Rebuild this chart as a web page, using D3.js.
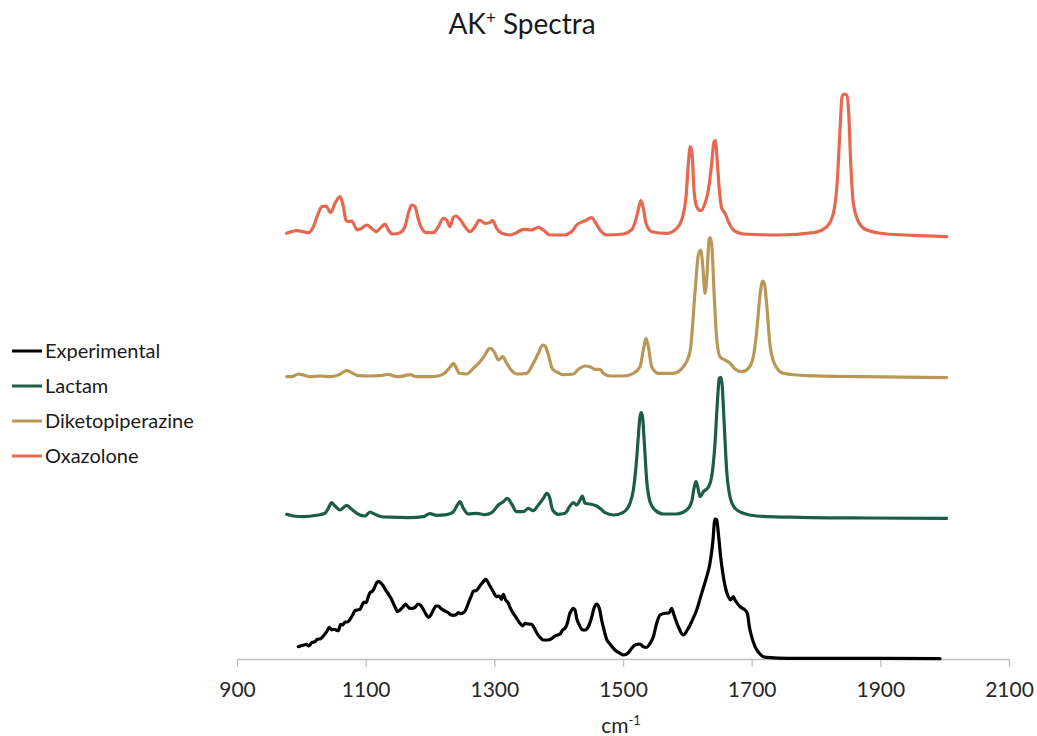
<!DOCTYPE html>
<html>
<head>
<meta charset="utf-8">
<script src="https://cdn.jsdelivr.net/npm/d3@7"></script>
<style>
  body { margin: 0; background: #fff; }
  svg { display: block; font-family: Lato, "Open Sans", sans-serif; }
</style>
</head>
<body>
<div id="app"></div>
<script>
// values (wavenumber, relative intensity)
const expX = [995.3,1003.1,1008.3,1011.4,1016.1,1021.2,1024.9,1030.1,1034.2,1039.4,1043.5,1047.2,1050.8,1053.9,1057.5,1061.1,1064.3,1067.9,1071.5,1075.7,1079.8,1083.4,1087.0,1091.2,1094.8,1097.4,1100.5,1104.1,1106.7,1110.9,1114.5,1117.1,1120.2,1123.3,1127.5,1131.6,1135.2,1139.4,1143.0,1146.6,1149.2,1153.4,1157.5,1161.7,1164.8,1167.9,1172.0,1176.7,1181.9,1185.5,1189.6,1193.8,1197.4,1201.0,1205.2,1209.3,1213.0,1216.6,1223.3,1228.5,1232.1,1236.3,1240.4,1244.0,1247.7,1251.8,1254.9,1258.0,1261.1,1264.8,1267.4,1271.5,1275.1,1278.8,1282.9,1286.5,1289.6,1293.3,1297.4,1301.0,1303.6,1307.8,1310.9,1314.0,1317.6,1321.8,1324.3,1329.5,1334.7,1339.9,1344.0,1347.7,1352.9,1358.0,1361.7,1365.8,1371.0,1376.2,1383.9,1389.1,1394.3,1402.1,1406.2,1409.8,1413.5,1416.6,1420.2,1422.8,1425.4,1428.0,1432.1,1437.3,1440.9,1446.1,1451.3,1454.9,1459.1,1463.2,1466.8,1470.5,1474.6,1479.8,1487.6,1495.3,1500.5,1508.3,1513.5,1518.7,1526.4,1531.6,1536.8,1542.0,1547.2,1552.3,1557.5,1565.3,1572.0,1575.6,1579.3,1586.0,1593.8,1600.0,1606.7,1614.5,1622.3,1630.1,1635.2,1639.4,1643.0,1645.6,1648.2,1651.8,1656.0,1660.1,1663.7,1667.4,1671.5,1674.1,1677.7,1681.9,1689.6,1693.3,1696.4,1700.0,1705.2,1711.9,1718.1,1728.5,1754.4,1827.0,1904.7,1992.7];
const expY = [0.123,0.137,0.147,0.13,0.163,0.173,0.197,0.203,0.23,0.273,0.317,0.29,0.297,0.29,0.283,0.347,0.34,0.37,0.37,0.397,0.44,0.483,0.49,0.497,0.543,0.57,0.563,0.623,0.663,0.68,0.723,0.763,0.773,0.763,0.73,0.683,0.65,0.607,0.557,0.507,0.473,0.49,0.517,0.55,0.53,0.507,0.507,0.517,0.55,0.537,0.497,0.447,0.417,0.437,0.49,0.53,0.53,0.507,0.48,0.463,0.443,0.437,0.443,0.463,0.453,0.463,0.483,0.53,0.583,0.64,0.68,0.683,0.707,0.743,0.773,0.797,0.773,0.73,0.683,0.64,0.623,0.63,0.597,0.647,0.59,0.557,0.517,0.457,0.407,0.357,0.33,0.357,0.35,0.347,0.313,0.263,0.217,0.19,0.19,0.203,0.23,0.25,0.29,0.307,0.357,0.44,0.49,0.507,0.49,0.407,0.34,0.29,0.29,0.323,0.417,0.507,0.55,0.507,0.39,0.29,0.197,0.15,0.09,0.057,0.04,0.063,0.107,0.14,0.15,0.123,0.117,0.157,0.223,0.357,0.44,0.457,0.463,0.507,0.44,0.323,0.24,0.29,0.373,0.49,0.657,0.823,0.957,1.157,1.4,1.395,1.257,1.023,0.823,0.69,0.623,0.59,0.623,0.59,0.557,0.523,0.49,0.457,0.323,0.223,0.123,0.057,0.023,0.013,0.007,0.007,0.007,0.003];

const lacX = [977.2,987.6,1003.1,1023.8,1036.8,1042.0,1047.2,1052.3,1060.1,1070.5,1078.2,1088.6,1099.0,1106.7,1114.5,1127.5,1148.2,1168.9,1189.6,1200.0,1210.4,1225.9,1236.3,1242.5,1246.6,1251.8,1259.6,1272.5,1285.5,1295.9,1306.2,1314.0,1320.2,1327.0,1334.7,1345.1,1352.8,1360.6,1368.4,1376.2,1381.4,1385.5,1390.7,1399.5,1409.8,1417.6,1422.8,1428.0,1433.2,1436.8,1441.0,1448.7,1459.1,1466.0,1472.0,1485.0,1500.5,1510.9,1516.1,1520.2,1523.8,1526.4,1528.5,1530.6,1533.2,1536.8,1542.0,1549.8,1562.7,1583.4,1599.0,1606.7,1610.9,1613.5,1616.1,1619.7,1624.9,1632.6,1637.8,1643.0,1646.6,1649.7,1651.8,1653.9,1657.0,1661.1,1666.3,1674.1,1687.1,1707.8,1775.1,1878.8,2003.1];
const lacY = [0.04,0.023,0.016,0.03,0.05,0.1,0.156,0.123,0.083,0.13,0.09,0.04,0.023,0.063,0.04,0.013,0.01,0.007,0.016,0.046,0.03,0.036,0.066,0.133,0.166,0.1,0.043,0.05,0.036,0.056,0.133,0.166,0.2,0.143,0.066,0.066,0.1,0.076,0.133,0.2,0.25,0.216,0.083,0.04,0.05,0.123,0.156,0.133,0.183,0.223,0.15,0.143,0.123,0.09,0.056,0.033,0.06,0.15,0.283,0.516,0.816,1.016,1.056,1.0,0.75,0.383,0.166,0.083,0.043,0.043,0.083,0.166,0.316,0.366,0.316,0.216,0.266,0.31,0.416,0.75,1.15,1.40,1.41,1.35,0.983,0.483,0.216,0.1,0.05,0.023,0.01,0.003,0];

const dkpX = [977.2,985.0,995.3,1003.1,1013.5,1029.0,1044.6,1057.5,1070.5,1078.2,1088.6,1106.7,1122.3,1135.2,1148.2,1158.5,1168.9,1179.3,1200.0,1213.0,1223.3,1231.1,1236.3,1240.4,1245.6,1257.0,1267.4,1277.7,1285.5,1290.7,1294.3,1299.5,1306.7,1313.0,1319.2,1327.0,1334.7,1350.3,1360.6,1368.4,1375.1,1378.8,1384.0,1390.7,1399.5,1407.2,1422.8,1430.6,1441.0,1448.7,1456.5,1464.2,1469.4,1479.8,1500.5,1516.1,1526.4,1531.6,1535.7,1539.4,1544.6,1555.0,1578.3,1593.8,1604.2,1612.0,1617.1,1620.8,1623.9,1627.5,1630.6,1633.7,1635.8,1638.4,1641.5,1645.6,1650.8,1658.6,1666.4,1674.1,1684.5,1694.9,1702.6,1707.8,1713.0,1717.1,1719.7,1723.4,1728.5,1736.3,1749.3,1785.5,1873.6,2003.1];
const dkpY = [0.01,0.01,0.037,0.027,0.01,0.017,0.01,0.027,0.07,0.05,0.02,0.017,0.02,0.034,0.01,0.017,0.03,0.01,0.01,0.017,0.05,0.104,0.144,0.104,0.044,0.037,0.094,0.16,0.227,0.284,0.294,0.26,0.177,0.21,0.144,0.07,0.037,0.044,0.144,0.244,0.327,0.317,0.227,0.084,0.05,0.03,0.037,0.084,0.117,0.11,0.084,0.084,0.044,0.017,0.017,0.044,0.11,0.277,0.394,0.31,0.11,0.044,0.044,0.11,0.26,0.86,1.227,1.277,1.127,0.844,1.027,1.377,1.40,1.294,0.86,0.394,0.21,0.177,0.144,0.087,0.06,0.094,0.21,0.46,0.827,0.967,0.944,0.727,0.327,0.127,0.044,0.02,0.01,0];

const oxaX = [977.2,992.7,1003.1,1010.9,1018.7,1026.4,1031.6,1038.3,1045.6,1052.3,1060.1,1064.3,1069.4,1073.1,1078.2,1087.0,1093.8,1101.6,1109.3,1116.1,1124.9,1130.1,1135.2,1142.0,1153.4,1161.1,1166.3,1171.5,1176.7,1181.9,1187.0,1194.8,1205.2,1213.0,1220.7,1225.9,1231.1,1236.3,1240.4,1246.6,1254.4,1262.2,1270.0,1276.7,1285.5,1292.2,1297.4,1303.6,1311.4,1324.4,1334.7,1345.1,1358.0,1368.4,1376.2,1386.5,1407.3,1420.2,1428.0,1440.9,1451.3,1456.5,1464.3,1474.7,1500.6,1513.5,1521.3,1525.4,1528.0,1531.6,1535.8,1544.6,1567.9,1583.5,1591.2,1598.0,1601.6,1604.7,1607.3,1610.4,1614.6,1620.8,1627.5,1632.7,1637.9,1641.5,1643.6,1646.7,1649.8,1653.4,1658.6,1663.8,1671.6,1687.1,1744.1,1795.9,1816.6,1827.0,1833.2,1837.3,1840.5,1843.6,1847.7,1850.9,1854.0,1858.1,1866.0,1878.9,1910.0,1951.4,2003.2];
const oxaY = [0.034,0.06,0.05,0.04,0.10,0.234,0.30,0.307,0.24,0.334,0.40,0.334,0.167,0.15,0.157,0.067,0.084,0.117,0.084,0.05,0.10,0.127,0.067,0.027,0.04,0.10,0.234,0.317,0.30,0.174,0.084,0.04,0.04,0.10,0.184,0.167,0.10,0.194,0.207,0.174,0.10,0.05,0.10,0.167,0.134,0.14,0.16,0.084,0.034,0.017,0.04,0.074,0.067,0.094,0.067,0.017,0.017,0.05,0.117,0.16,0.19,0.15,0.067,0.017,0.027,0.07,0.2,0.317,0.36,0.284,0.134,0.05,0.034,0.084,0.167,0.40,0.734,0.90,0.834,0.467,0.30,0.26,0.334,0.467,0.734,0.95,0.96,0.734,0.467,0.284,0.234,0.15,0.067,0.027,0.017,0.04,0.1,0.234,0.567,1.067,1.40,1.427,1.417,1.234,0.734,0.334,0.15,0.067,0.027,0.014,0];

const seriesNames = ['Experimental', 'Lactam', 'Diketopiperazine', 'Oxazolone'];
const seriesColors = ['#000000', '#1b5e45', '#b99757', '#e8674f'];
const stackOffsets = [0, 1.407, 2.813, 4.223];
const xTicks = [900, 1100, 1300, 1500, 1700, 1900, 2100];

const width = 1037;
const height = 736;
const margin = { top: 59, bottom: 77, left: 237, right: 28 };

const svg = d3.select('#app')
  .append('svg')
  .attr('width', width)
  .attr('height', height);

const xScale = d3.scaleLinear()
  .domain([900, 2100])
  .range([margin.left, width - margin.right]);

const yScale = d3.scaleLinear()
  .domain([0, 6])
  .range([height - margin.bottom, margin.top]);

// title
const title = svg.append('text')
  .attr('x', 522)
  .attr('y', 34)
  .attr('text-anchor', 'middle')
  .attr('font-size', 28)
  .attr('fill', '#1a1a1a');
title.append('tspan').text('AK');
title.append('tspan').attr('font-size', 17).attr('dy', -10).text('+');
title.append('tspan').attr('dy', 10).text(' Spectra');

// x axis
const xAxis = d3.axisBottom(xScale)
  .tickValues(xTicks)
  .tickFormat(d3.format('d'))
  .tickSize(8)
  .tickSizeOuter(0)
  .tickPadding(15);

const gx = svg.append('g')
  .attr('transform', `translate(0, ${yScale(0)})`)
  .call(xAxis);
gx.select('.domain').attr('stroke', '#bfbfbf').attr('stroke-width', 1.3);
gx.selectAll('.tick line').attr('stroke', '#bfbfbf').attr('stroke-width', 1.3);
gx.selectAll('.tick text')
  .attr('font-family', 'Lato, "Open Sans", sans-serif')
  .attr('font-size', 21)
  .attr('fill', '#262626');

const xLabel = svg.append('text')
  .attr('x', 621)
  .attr('y', 733)
  .attr('text-anchor', 'middle')
  .attr('font-size', 21)
  .attr('fill', '#262626');
xLabel.append('tspan').text('cm');
xLabel.append('tspan').attr('font-size', 13).attr('dy', -8).text('-1');

// spectra
const series = [
  { x: expX, y: expY },
  { x: lacX, y: lacY },
  { x: dkpX, y: dkpY },
  { x: oxaX, y: oxaY }
];

const line = d3.line()
  .x(d => xScale(d[0]))
  .y(d => yScale(d[1]))
  .curve(d3.curveMonotoneX);

// draw top series first so lower ones sit over them
for (let i = series.length - 1; i >= 0; i--) {
  const s = series[i];
  const pts = s.x.map((x, j) => [x, s.y[j] + stackOffsets[i]]);
  svg.append('path')
    .datum(pts)
    .attr('fill', 'none')
    .attr('stroke', seriesColors[i])
    .attr('stroke-width', 3.2)
    .attr('stroke-linejoin', 'round')
    .attr('stroke-linecap', 'round')
    .attr('d', line);
}

// legend
const legend = svg.append('g').attr('transform', 'translate(12, 351)');
seriesNames.forEach((name, i) => {
  const g = legend.append('g').attr('transform', `translate(0, ${i * 35})`);
  g.append('line')
    .attr('x1', 0).attr('x2', 30)
    .attr('y1', 0).attr('y2', 0)
    .attr('stroke', seriesColors[i])
    .attr('stroke-width', 3);
  g.append('text')
    .attr('x', 33)
    .attr('y', 7)
    .attr('font-size', 20)
    .attr('fill', '#1a1a1a')
    .text(name);
});
</script>
</body>
</html>
